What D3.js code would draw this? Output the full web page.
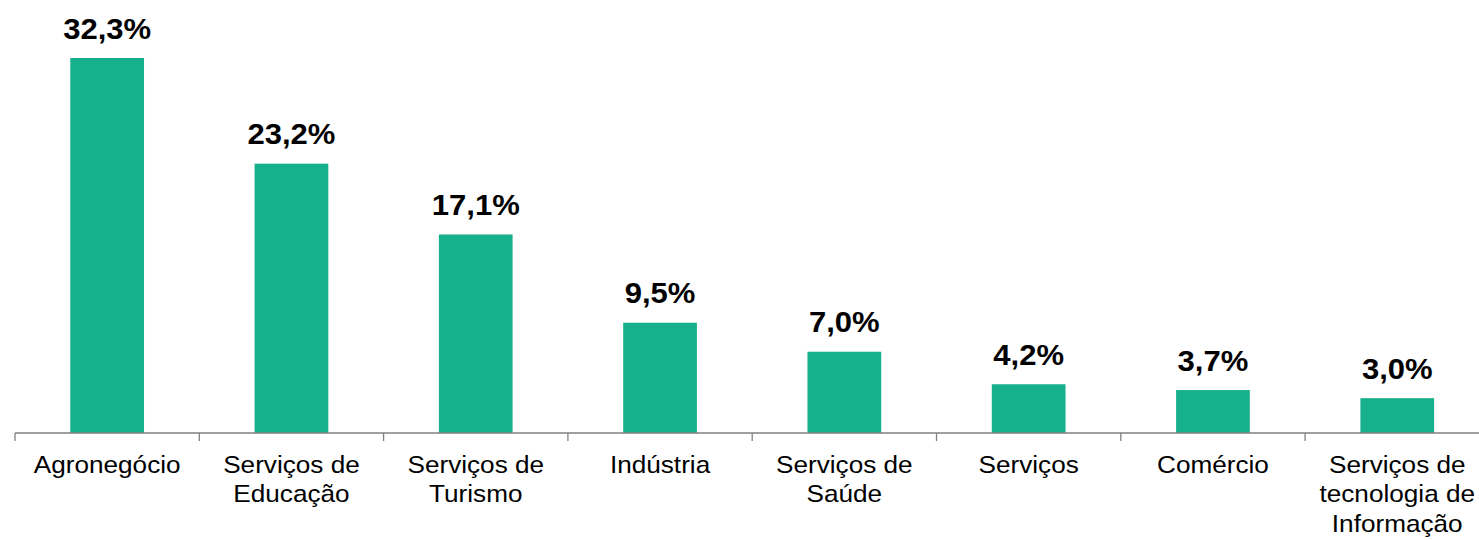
<!DOCTYPE html>
<html>
<head>
<meta charset="utf-8">
<script src="https://cdn.jsdelivr.net/npm/d3@7"></script>
<style>
  body { margin: 0; background: #fff; }
  svg { display: block; font-family: "Liberation Sans", Arial, sans-serif; }
</style>
</head>
<body>
<div id="chart"><svg></svg></div>
<script>
const categories = [
    ["Agronegócio"],
    ["Serviços de", "Educação"],
    ["Serviços de", "Turismo"],
    ["Indústria"],
    ["Serviços de", "Saúde"],
    ["Serviços"],
    ["Comércio"],
    ["Serviços de", "tecnologia de", "Informação"]
];
const values = [32.3, 23.2, 17.1, 9.5, 7.0, 4.2, 3.7, 3.0];
const valueLabels = ["32,3%", "23,2%", "17,1%", "9,5%", "7,0%", "4,2%", "3,7%", "3,0%"];

document.addEventListener("DOMContentLoaded", function() {
    const width = 1479;
    const height = 540;
    const axisY = 433;

    const svg = d3.select("#chart svg")
        .attr("width", width)
        .attr("height", height);

    const idx = d3.range(values.length);

    const x = d3.scaleBand()
        .domain(idx)
        .range([15, 15 + 8 * 184.3])
        .paddingInner(0.6)
        .paddingOuter(0.3);

    const y = d3.scaleLinear()
        .domain([0, 32.3])
        .range([axisY, 58]);

    const cx = i => x(i) + x.bandwidth() / 2;

    // bars
    svg.append("g")
        .selectAll("rect")
        .data(idx)
        .enter().append("rect")
        .attr("x", i => x(i))
        .attr("y", i => y(values[i]))
        .attr("width", x.bandwidth())
        .attr("height", i => axisY - y(values[i]))
        .attr("fill", "#17b08c");

    // value labels (the original text is a bit wide, so stretch it)
    svg.append("g")
        .selectAll("text")
        .data(idx)
        .enter().append("text")
        .attr("transform", i => `translate(${cx(i)},${y(values[i]) - 19.5}) scale(1.07,1)`)
        .attr("text-anchor", "middle")
        .attr("font-size", 29)
        .attr("font-weight", "bold")
        .attr("fill", "#000")
        .text(i => valueLabels[i]);

    // axis line with boundary ticks
    const step = x.step();
    const start = x.range()[0];
    const axis = svg.append("g").attr("stroke", "#808080").attr("stroke-width", 1.3);
    axis.append("line")
        .attr("x1", start).attr("x2", width)
        .attr("y1", axisY).attr("y2", axisY);
    axis.selectAll("line.tick")
        .data(d3.range(values.length + 1))
        .enter().append("line")
        .attr("class", "tick")
        .attr("x1", i => start + i * step).attr("x2", i => start + i * step)
        .attr("y1", axisY).attr("y2", axisY + 8);

    // category labels
    const cat = svg.append("g")
        .selectAll("text")
        .data(idx)
        .enter().append("text")
        .attr("transform", i => `translate(${cx(i)},472.5) scale(1.09,1)`)
        .attr("text-anchor", "middle")
        .attr("font-size", 24)
        .attr("fill", "#000");

    cat.selectAll("tspan")
        .data(i => categories[i])
        .enter().append("tspan")
        .attr("x", 0)
        .attr("dy", (d, j) => j === 0 ? 0 : 30)
        .text(d => d);
});
</script>
</body>
</html>
